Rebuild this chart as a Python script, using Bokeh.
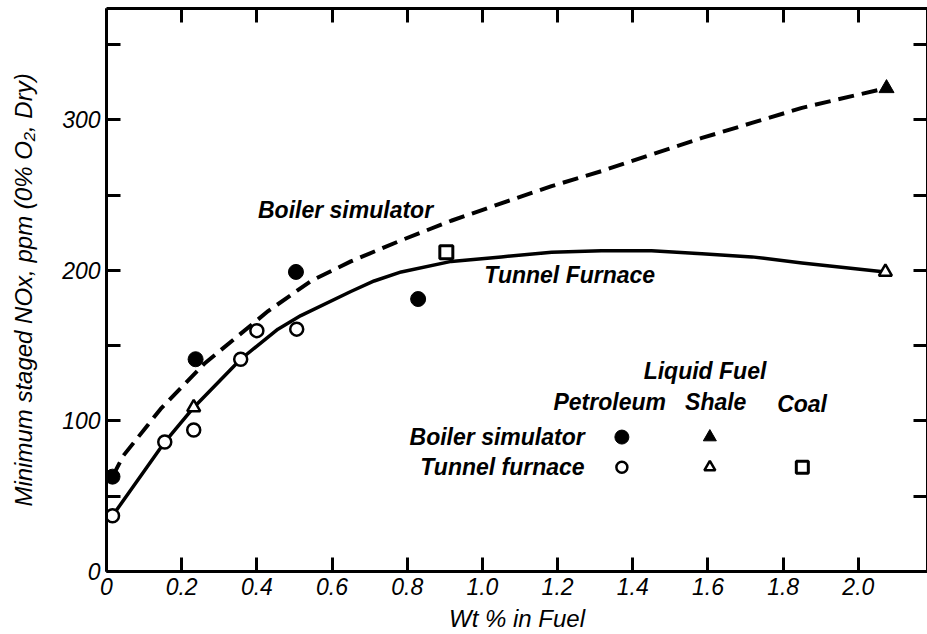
from bokeh.plotting import figure
from bokeh.models import LinearAxis, FixedTicker, Label, Range1d
from bokeh.embed import file_html
from bokeh.resources import INLINE

# ---- axis ticks ----
x_ticks = [0, 0.2, 0.4, 0.6, 0.8, 1.0, 1.2, 1.4, 1.6, 1.8, 2.0]
x_tick_labels = ["0", "0.2", "0.4", "0.6", "0.8", "1.0", "1.2", "1.4", "1.6", "1.8", "2.0"]
y_ticks = [0, 50, 100, 150, 200, 250, 300, 350]
y_tick_labels = ["0", "", "100", "", "200", "", "300", ""]

# ---- measured points (wt % in fuel, ppm NOx) ----
boiler_petroleum_x = [0.016, 0.237, 0.504, 0.829]
boiler_petroleum_y = [63, 141, 199, 181]
boiler_shale_x = [2.075]
boiler_shale_y = [321]

tunnel_petroleum_x = [0.016, 0.155, 0.232, 0.357, 0.40, 0.506]
tunnel_petroleum_y = [37, 86, 94, 141, 160, 161]
tunnel_shale_x = [0.232, 2.072]
tunnel_shale_y = [109, 199]
tunnel_coal_x = [0.904]
tunnel_coal_y = [212]

# ---- trend curves ----
boiler_curve_x = [0.016, 0.045, 0.109, 0.144, 0.26, 0.43, 0.544, 0.65, 0.784,
                  0.917, 1.032, 1.184, 1.317, 1.45, 1.584, 1.717, 1.85, 2.072]
boiler_curve_y = [63, 77, 97, 108, 138, 173, 193, 206, 220,
                  233, 243, 256, 266, 277, 288, 298, 308, 321]
tunnel_curve_x = [0.016, 0.155, 0.232, 0.357, 0.456, 0.517, 0.65, 0.712, 0.784,
                  0.917, 1.05, 1.184, 1.317, 1.45, 1.584, 1.717, 1.85, 2.072]
tunnel_curve_y = [37, 86, 109, 141, 161, 170, 186, 193, 199,
                  206, 209, 212, 213, 213, 211, 209, 205, 199]

# ---- key (symbol table) ----
key_col_x = [1.371, 1.605, 1.851]
key_row_y = [89.3, 69.3]

FONT = "Liberation Sans"

p = figure(width=927, height=634,
           x_range=Range1d(0, 2.184), y_range=Range1d(0, 374),
           output_backend="svg", toolbar_location=None,
           min_border_left=106, min_border_right=0,
           min_border_top=8, min_border_bottom=63)
p.grid.visible = False
p.outline_line_color = None
p.background_fill_color = "white"
p.border_fill_color = "white"


def style_axis(ax, ticks, labels, show_labels):
    ax.ticker = FixedTicker(ticks=ticks)
    ax.major_label_overrides = {t: l for t, l in zip(ticks, labels)}
    ax.minor_tick_line_color = None
    ax.major_tick_in = 14
    ax.major_tick_out = 0
    ax.major_tick_line_width = 3
    ax.major_tick_line_color = "black"
    ax.axis_line_width = 3
    ax.axis_line_color = "black"
    if show_labels:
        ax.major_label_text_font = FONT
        ax.major_label_text_font_style = "italic"
        ax.major_label_text_font_size = "23px"
        ax.major_label_text_color = "black"
        ax.major_label_standoff = 6
    else:
        ax.major_label_text_font_size = "0px"
        ax.major_label_standoff = 0


xb = p.xaxis[0]
style_axis(xb, x_ticks, x_tick_labels, True)
xb.axis_label = "Wt % in Fuel"
xb.axis_label_text_font = FONT
xb.axis_label_text_font_style = "italic"
xb.axis_label_text_font_size = "24px"
xb.axis_label_text_color = "black"
xb.axis_label_standoff = 7

yl = p.yaxis[0]
style_axis(yl, y_ticks, y_tick_labels, True)
yl.axis_label = "Minimum staged NOx, ppm (0% O\u2082, Dry)"
yl.axis_label_text_font = FONT
yl.axis_label_text_font_style = "italic"
yl.axis_label_text_font_size = "24px"
yl.axis_label_text_color = "black"
yl.axis_label_standoff = 22

xt = LinearAxis()
style_axis(xt, x_ticks, [""] * len(x_ticks), False)
p.add_layout(xt, "above")
yr = LinearAxis()
style_axis(yr, y_ticks, [""] * len(y_ticks), False)
p.add_layout(yr, "right")

# ---- curves ----
p.line(boiler_curve_x, boiler_curve_y, line_color="black", line_width=4,
       line_dash="16 8", line_join="round")
p.line(tunnel_curve_x, tunnel_curve_y, line_color="black", line_width=3.5,
       line_join="round")

# ---- data markers ----
p.scatter(boiler_petroleum_x, boiler_petroleum_y, marker="circle", size=15,
          fill_color="black", line_color="black")
p.scatter(boiler_shale_x, boiler_shale_y, marker="triangle", size=15,
          fill_color="black", line_color="black")
p.scatter(tunnel_petroleum_x, tunnel_petroleum_y, marker="circle", size=13,
          fill_color="white", line_color="black", line_width=2.5)
p.scatter(tunnel_shale_x, tunnel_shale_y, marker="triangle", size=13,
          fill_color="white", line_color="black", line_width=2.5)
p.scatter(tunnel_coal_x, tunnel_coal_y, marker="square", size=13,
          fill_color="white", line_color="black", line_width=3)

# ---- key markers ----
p.scatter([key_col_x[0]], [key_row_y[0]], marker="circle", size=14,
          fill_color="black", line_color="black")
p.scatter([key_col_x[1]], [key_row_y[0]], marker="triangle", size=13,
          fill_color="black", line_color="black")
p.scatter([key_col_x[0]], [key_row_y[1]], marker="circle", size=11,
          fill_color="white", line_color="black", line_width=2.5)
p.scatter([key_col_x[1]], [key_row_y[1]], marker="triangle", size=11,
          fill_color="white", line_color="black", line_width=2.5)
p.scatter([key_col_x[2]], [key_row_y[1]], marker="square", size=12,
          fill_color="white", line_color="black", line_width=3)


def add_text(x, y, text, align="left"):
    p.add_layout(Label(x=x, y=y, text=text, text_font=FONT,
                       text_font_style="bold italic", text_font_size="23px",
                       text_color="black", text_align=align,
                       text_baseline="middle"))


# curve annotations
add_text(0.403, 240, "Boiler simulator")
add_text(1.005, 196.7, "Tunnel Furnace")

# key headings and rows
add_text(1.429, 133.3, "Liquid Fuel")
add_text(1.189, 112.7, "Petroleum")
add_text(1.539, 112.7, "Shale")
add_text(1.784, 111.3, "Coal")
add_text(1.272, key_row_y[0], "Boiler simulator", align="right")
add_text(1.272, key_row_y[1], "Tunnel furnace", align="right")

open("out.html", "w").write(file_html(p, INLINE))
